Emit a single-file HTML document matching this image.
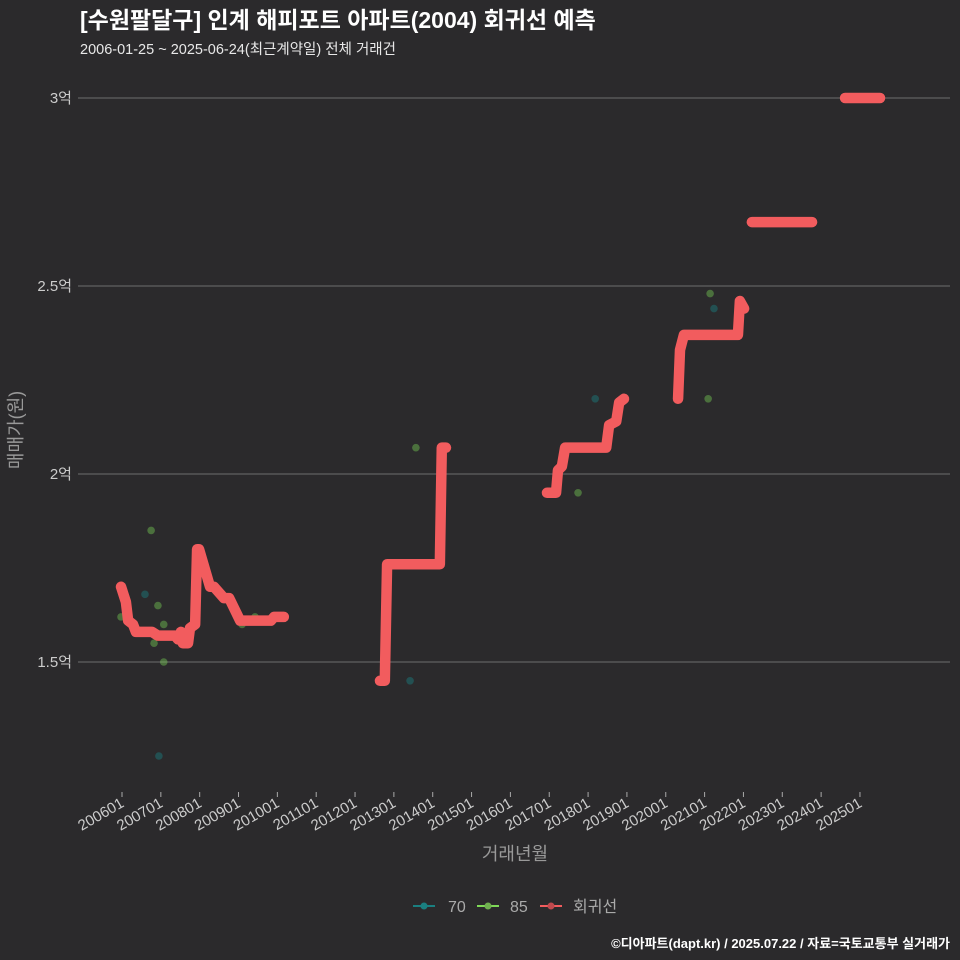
<!DOCTYPE html>
<html><head><meta charset="utf-8"><style>
body{margin:0;background:#2b2a2c;}
svg{display:block;font-family:"Liberation Sans","Noto Sans CJK KR",sans-serif;}
</style></head><body>
<svg id="chart" width="960" height="960" viewBox="0 0 960 960">
<rect width="960" height="960" fill="#2b2a2c"/>
<text x="80" y="28" fill="#fff" font-size="23" font-weight="bold">[수원팔달구] 인계 해피포트 아파트(2004) 회귀선 예측</text>
<text x="80" y="54" fill="#e8e8e8" font-size="14.5">2006-01-25 ~ 2025-06-24(최근계약일) 전체 거래건</text>
<g id="grid"></g>
<g id="xaxis"></g>
<g id="pts"></g>
<g id="reg"></g>
<text x="22" y="430" fill="#999" font-size="18" text-anchor="middle" transform="rotate(-90 22 430)">매매가(원)</text>
<text x="515" y="860" fill="#999" font-size="18" text-anchor="middle">거래년월</text>
<g>
<g><line x1="413" y1="906" x2="435" y2="906" stroke="#1a7f80" stroke-width="2"/><circle cx="424" cy="906" r="3.5" fill="#1a7f80"/><text x="448" y="912" fill="#aaa" font-size="16">70</text></g>
<g><line x1="477" y1="906" x2="499" y2="906" stroke="#7ed957" stroke-width="2"/><circle cx="488" cy="906" r="3.5" fill="#6fb04f"/><text x="510" y="912" fill="#aaa" font-size="16">85</text></g>
<g><line x1="540" y1="906" x2="562" y2="906" stroke="#f25c5e" stroke-width="2"/><circle cx="551" cy="906" r="3.5" fill="#c04a4e"/><text x="573" y="912" fill="#aaa" font-size="16">회귀선</text></g>
</g>
<text x="950" y="948" fill="#fff" font-size="13" font-weight="bold" text-anchor="end">©디아파트(dapt.kr) / 2025.07.22 / 자료=국토교통부 실거래가</text>
</svg>
<script>
// y tick values (억)
const yTicks = [1.5, 2, 2.5, 3];
const yTickLabels = ["1.5억", "2억", "2.5억", "3억"];
const xTickLabels = ["200601","200701","200801","200901","201001","201101","201201","201301","201401","201501","201601","201701","201801","201901","202001","202101","202201","202301","202401","202501"];
// regression segments: months since 2006-01, values in 억
const reg1M = [-0.3,1.2,1.9,3.4,4.3,9.3,11.1,16.4,17.3,18.2,18.8,20.4,21.0,22.6,23.2,23.8,27.2,28.4,31.5,33.1,36.5,46.0,47.0,50.0];
const reg1V = [1.70,1.66,1.61,1.60,1.58,1.58,1.57,1.57,1.56,1.58,1.55,1.55,1.59,1.60,1.80,1.80,1.70,1.70,1.67,1.67,1.61,1.61,1.62,1.62];
const reg2M = [79.7,81.2,81.9,98.2,98.8,100.1];
const reg2V = [1.45,1.45,1.76,1.76,2.07,2.07];
const reg3M = [131.3,134.1,134.7,135.9,136.9,149.6,150.5,152.7,153.6,155.1];
const reg3V = [1.95,1.95,2.01,2.02,2.07,2.07,2.13,2.14,2.19,2.20];
const reg4M = [171.8,172.4,173.6,190.3,190.9,192.2];
const reg4V = [2.20,2.33,2.37,2.37,2.46,2.44];
const reg5M = [194.6,213.2];
const reg5V = [2.67,2.67];
const reg6M = [223.4,234.2];
const reg6V = [3.00,3.00];
// scatter points
const p70M = [7.1,11.4,89.0,146.2,182.9];
const p70V = [1.68,1.25,1.45,2.20,2.44];
const p85M = [-0.3,9.0,11.1,9.9,12.9,12.9,37.1,41.1,90.8,140.9,181.1,181.7];
const p85V = [1.62,1.85,1.65,1.55,1.60,1.50,1.60,1.62,2.07,1.95,2.20,2.48];

const NS = "http://www.w3.org/2000/svg";
const X = m => 122 + m * 38.84 / 12;
const Y = v => 474 - (v - 2) * 376;
function mk(tag, attrs, parent){const e=document.createElementNS(NS,tag);for(const k in attrs)e.setAttribute(k,attrs[k]);parent.appendChild(e);return e;}
const grid=document.getElementById('grid');
yTicks.forEach((v,i)=>{
  const l=mk('line',{x1:78,x2:950,y1:Y(v),y2:Y(v),stroke:'#6e6e6e','stroke-width':1},grid);
  
  
  const t=mk('text',{x:72,y:Y(v)+5,fill:'#ccc','font-size':15,'text-anchor':'end'},grid);
  t.textContent=yTickLabels[i];
  
  
});
const xa=document.getElementById('xaxis');
xTickLabels.forEach((s,i)=>{
  const x=X(i*12);
  const l=mk('line',{x1:x,x2:x,y1:792,y2:797,stroke:'#aaa','stroke-width':1},xa);
  
  
  const t=mk('text',{x:x+3,y:806,fill:'#ccc','font-size':15,'text-anchor':'end',transform:`rotate(-30 ${x+3} 806)`},xa);
  t.textContent=s;
  
  
});
const pts=document.getElementById('pts');
p70M.forEach((m,i)=>{
  const c=mk('circle',{cx:X(m),cy:Y(p70V[i]),r:3.8,fill:'#1a7f80','fill-opacity':0.45},pts);
  
  
});
p85M.forEach((m,i)=>{
  const c=mk('circle',{cx:X(m),cy:Y(p85V[i]),r:3.8,fill:'#7ed957','fill-opacity':0.4},pts);
  
  
});
const reg=document.getElementById('reg');
[[reg1M,reg1V],[reg2M,reg2V],[reg3M,reg3V],[reg4M,reg4V],[reg5M,reg5V],[reg6M,reg6V]].forEach(([ms,vs])=>{
  const p=mk('polyline',{points:ms.map((m,i)=>X(m)+','+Y(vs[i])).join(' '),fill:'none',stroke:'#f25c5e','stroke-width':10.5,'stroke-linecap':'round','stroke-linejoin':'round'},reg);
  
  
});
</script>
</body></html>
